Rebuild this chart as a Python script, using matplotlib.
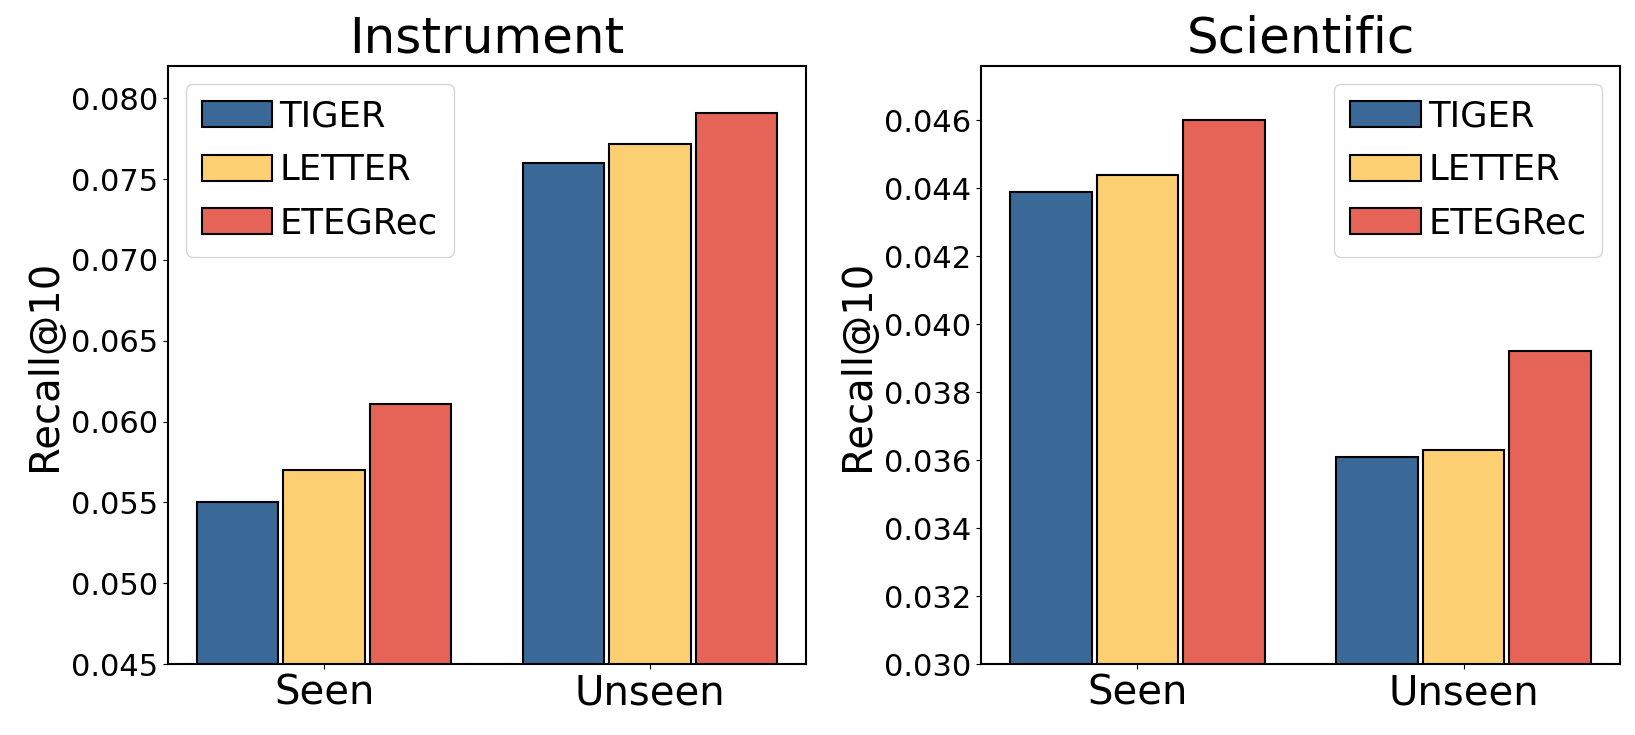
import matplotlib
matplotlib.use("Agg")
import matplotlib.pyplot as plt
import numpy as np

categories = ["Seen", "Unseen"]
methods = ["TIGER", "LETTER", "ETEGRec"]
colors = ["#3A6897", "#FDCF73", "#E66357"]

instrument_vals = {
    "TIGER": [0.0550, 0.0760],
    "LETTER": [0.0570, 0.0772],
    "ETEGRec": [0.0611, 0.0791],
}
scientific_vals = {
    "TIGER": [0.0439, 0.0361],
    "LETTER": [0.0444, 0.0363],
    "ETEGRec": [0.0460, 0.0392],
}

fig = plt.figure(figsize=(16.35, 7.35), dpi=100)
ax1 = fig.add_axes([168/1635, 71/735, 638/1635, 598/735])
ax2 = fig.add_axes([981/1635, 71/735, 639/1635, 598/735])

x = np.arange(len(categories))
width = 0.25
offsets = [-0.265, 0.0, 0.265]

def draw(ax, vals, title, ylim, yticks, legend_loc):
    for m, c, off in zip(methods, colors, offsets):
        ax.bar(x + off, vals[m], width, color=c, edgecolor="black",
               linewidth=1.5, label=m)
    ax.set_title(title, fontsize=36, pad=10)
    ax.set_ylabel("Recall@10", fontsize=29)
    ax.set_xticks(x)
    ax.set_xticklabels(categories, fontsize=29)
    ax.set_ylim(*ylim)
    ax.set_yticks(yticks)
    ax.set_yticklabels([f"{t:.3f}" for t in yticks], fontsize=22)
    for s in ax.spines.values():
        s.set_linewidth(1.5)
    ax.legend(loc=legend_loc, fontsize=25.5, handletextpad=0.2,
              labelspacing=0.55, borderpad=0.45, handleheight=0.75)

draw(ax1, instrument_vals, "Instrument", (0.045, 0.082),
     np.arange(0.045, 0.0801, 0.005), "upper left")
draw(ax2, scientific_vals, "Scientific", (0.030, 0.0476),
     np.arange(0.030, 0.0461, 0.002), "upper right")

fig.savefig("out.png", dpi=100)
